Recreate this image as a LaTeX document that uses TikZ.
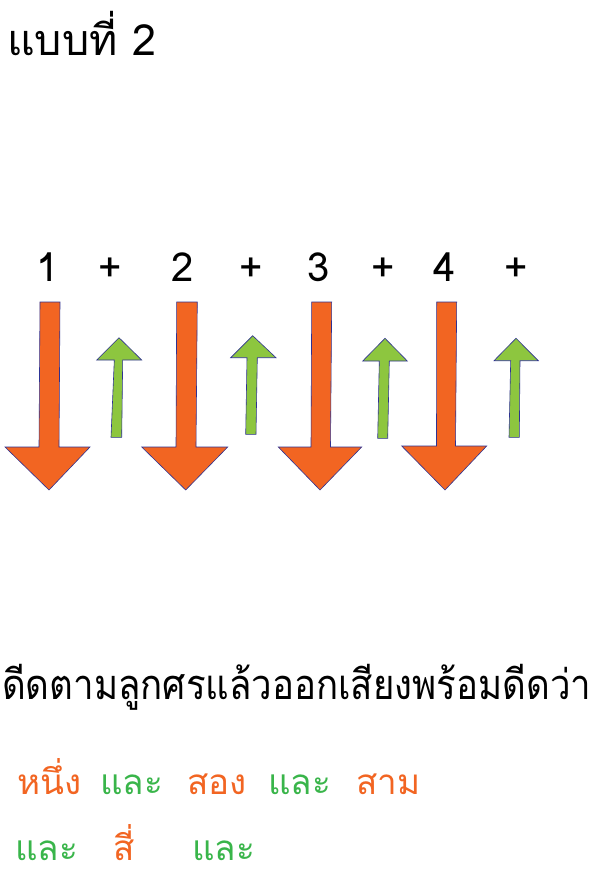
\documentclass[tikz,border=0pt]{standalone}
\usepackage{fontspec}
\newfontfamily\thaifont[Script=Thai]{Loma}
\newfontfamily\thaicond[Script=Thai,FakeStretch=0.88]{Loma}
\definecolor{arrorange}{HTML}{F26522}
\definecolor{arrgreen}{HTML}{8DC63F}
\definecolor{edgeblue}{HTML}{2E3192}
\definecolor{txtgreen}{HTML}{39B54A}
\definecolor{txtorange}{HTML}{F26522}
\begin{document}
\begin{tikzpicture}[x=1pt,y=-1pt,
  downarrow/.style={fill=arrorange,draw=edgeblue,line width=0.6pt,line join=miter},
  uparrow/.style={fill=arrgreen,draw=edgeblue,line width=0.6pt,line join=miter},
  lbl/.style={inner sep=0pt,anchor=base,font=\thaifont\fontsize{40}{44}\selectfont},
  title/.style={inner sep=0pt,anchor=base west,font=\thaifont\fontsize{43}{46}\selectfont},
  instr/.style={inner sep=0pt,anchor=base west,font=\thaicond\fontsize{41.6}{44}\selectfont},
  word/.style={inner sep=0pt,anchor=base west,font=\thaifont\fontsize{35}{38}\selectfont},
  ow/.style={word,text=txtorange},
  gw/.style={word,text=txtgreen}]
\useasboundingbox (0,0) rectangle (605,889);
\fill[white] (0,0) rectangle (605,889);

\node[title] (title) at (7,55) {แบบที่ 2};

% number labels
\node[lbl] (n1) at (48,281.7) {1};
\node[lbl] (p1) at (110,281.7) {+};
\node[lbl] (n2) at (182.7,281.7) {2};
\node[lbl] (p2) at (250.7,281.7) {+};
\node[lbl] (n3) at (318.3,281.7) {3};
\node[lbl] (p3) at (383.3,281.7) {+};
\node[lbl] (n4) at (445,281.7) {4};
\node[lbl] (p4) at (515.7,281.7) {+};

% orange down arrows
\draw[downarrow] (40,302) -- (60,302) -- (59,447) -- (90,447) -- (49,490) -- (5,447) -- (39,447) -- cycle;
\draw[downarrow] (176.7,302) -- (197.3,302) -- (196,447) -- (227.7,447) -- (185.7,490) -- (141.7,447) -- (176,447) -- cycle;
\draw[downarrow] (311.7,302) -- (331.7,302) -- (330.5,447) -- (361.7,447) -- (320,490) -- (278.3,447) -- (311,447) -- cycle;
\draw[downarrow] (436.7,302) -- (456.7,302) -- (455.5,446) -- (486.7,446) -- (445,490) -- (401.7,446) -- (436.5,446) -- cycle;

% green up arrows
\draw[uparrow] (119,337.7) -- (141.7,360) -- (122.7,360) -- (121.7,437.3) -- (111,437.3) -- (114.3,360) -- (96.7,360) -- cycle;
\draw[uparrow] (252.7,335.7) -- (276,357.7) -- (257.3,357.7) -- (256,434.3) -- (245.7,434.3) -- (247,357.7) -- (230.7,357.7) -- cycle;
\draw[uparrow] (385,338.3) -- (407.3,361) -- (389.3,361) -- (387.7,438.3) -- (377.7,438.3) -- (379.3,361) -- (362.7,361) -- cycle;
\draw[uparrow] (516,338.3) -- (538.3,360.7) -- (520,360.7) -- (519.3,437.3) -- (509,437.3) -- (510.7,360.7) -- (494,360.7) -- cycle;

\node[instr] (instr) at (2,699) {ดีดตามลูกศรแล้วออกเสียงพร้อมดีดว่า};

\node[ow] (w1) at (17,794) {หนึ่ง};
\node[gw] (w2) at (100,794) {และ};
\node[ow] (w3) at (187,794) {สอง};
\node[gw] (w4) at (268,794) {และ};
\node[ow] (w5) at (356,794) {สาม};
\node[gw] (w6) at (15,860) {และ};
\node[ow] (w7) at (113,860) {สี่};
\node[gw] (w8) at (192,860) {และ};
\end{tikzpicture}
\end{document}
